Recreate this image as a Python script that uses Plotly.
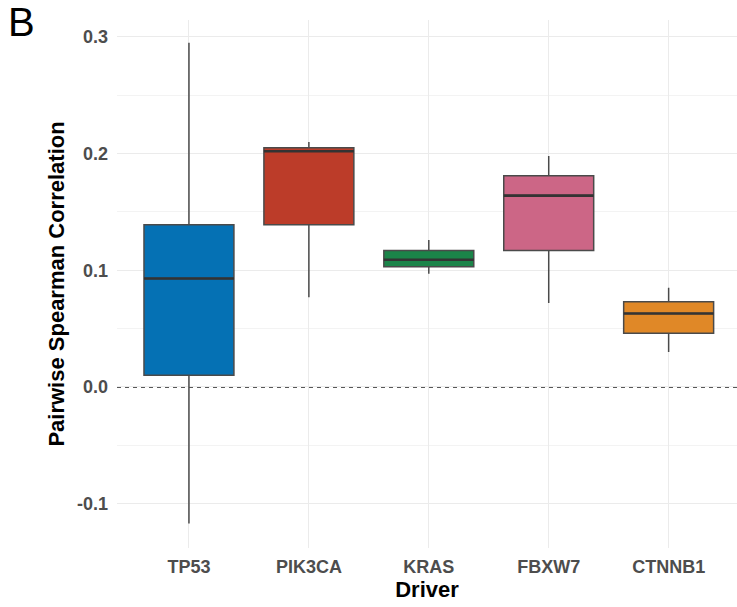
import plotly.graph_objects as go

# Summary statistics of pairwise Spearman correlations per driver gene
drivers = ["TP53", "PIK3CA", "KRAS", "FBXW7", "CTNNB1"]
lower_whisker = [-0.117, 0.077, 0.097, 0.072, 0.030]
q1 = [0.010, 0.139, 0.103, 0.117, 0.046]
median = [0.093, 0.202, 0.109, 0.164, 0.063]
q3 = [0.139, 0.205, 0.117, 0.181, 0.073]
upper_whisker = [0.295, 0.210, 0.126, 0.198, 0.085]
colors = ["#0571B4", "#BC3C29", "#1B8449", "#CC6686", "#E08827"]

y_ticks = [-0.1, 0.0, 0.1, 0.2, 0.3]
y_tick_text = ["-0.1", "0.0", "0.1", "0.2", "0.3"]

BOX_WIDTH = 0.75

fig = go.Figure()
for i, name in enumerate(drivers):
    fig.add_trace(go.Box(
        x=[name],
        lowerfence=[lower_whisker[i]],
        q1=[q1[i]],
        median=[median[i]],
        q3=[q3[i]],
        upperfence=[upper_whisker[i]],
        fillcolor=colors[i],
        line=dict(color="#4A4A4A", width=1.5),
        whiskerwidth=0,
        width=BOX_WIDTH,
        boxpoints=False,
        hoverinfo="skip",
        showlegend=False,
    ))
    # heavier median bar on top of the box
    fig.add_shape(
        type="line", xref="x", yref="y",
        x0=i - BOX_WIDTH / 2, x1=i + BOX_WIDTH / 2,
        y0=median[i], y1=median[i],
        line=dict(color="#333333", width=2.6),
        layer="above",
    )

# Reference line at zero correlation
fig.add_hline(y=0, line=dict(color="#222222", width=1.5, dash="4px,4px"), layer="below")

tick_font = dict(family="Liberation Sans, Arial, sans-serif", size=18, color="#4D4D4D")
title_font = dict(family="Liberation Sans, Arial, sans-serif", size=22, color="#000000")

fig.update_layout(
    width=737,
    height=607,
    margin=dict(l=117, r=0, t=20, b=59),
    plot_bgcolor="white",
    paper_bgcolor="white",
    boxmode="overlay",
    xaxis=dict(
        range=[-0.6, 4.57],
        showgrid=True,
        gridcolor="#EBEBEB",
        gridwidth=1.2,
        zeroline=False,
        showline=False,
        ticks="",
        ticklabelstandoff=6,
        tickfont=tick_font,
        tickprefix="<b>", ticksuffix="</b>",
        title=dict(text="<b>Driver</b>", font=title_font, standoff=0),
    ),
    yaxis=dict(
        range=[-0.138, 0.3145],
        tickvals=y_ticks,
        ticktext=["<b>%s</b>" % t for t in y_tick_text],
        showgrid=True,
        gridcolor="#EBEBEB",
        gridwidth=1.2,
        minor=dict(dtick=0.05, tick0=0, showgrid=True, gridcolor="#F3F3F3", gridwidth=1),
        zeroline=False,
        showline=False,
        ticks="",
        ticklabelstandoff=8,
        tickfont=tick_font,
        title=dict(text="<b>Pairwise Spearman Correlation</b>", font=title_font, standoff=6),
    ),
    annotations=[dict(
        text="B", xref="paper", yref="paper", x=-117 / 620, y=1 + 20 / 528,
        xanchor="left", yanchor="top", xshift=6, yshift=2, showarrow=False,
        font=dict(family="Liberation Sans, Arial, sans-serif", size=40, color="#000000"),
    )],
)

fig.write_html("out.html")
